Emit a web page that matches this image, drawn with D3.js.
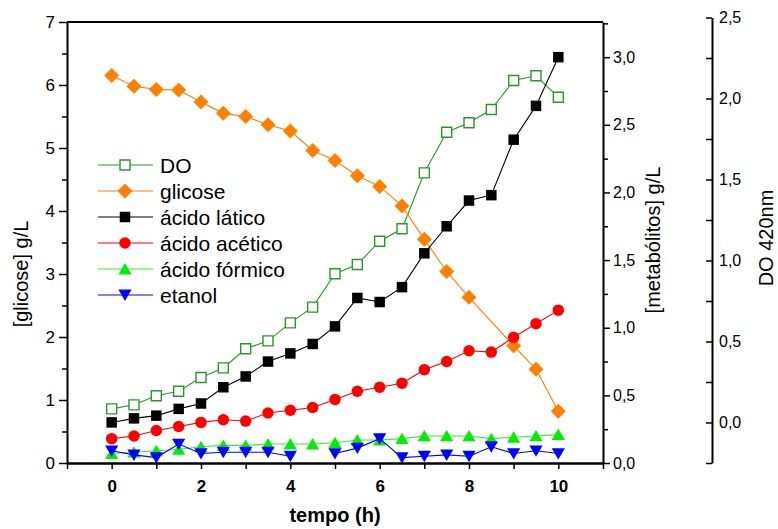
<!DOCTYPE html>
<html>
<head>
<meta charset="utf-8">
<script src="https://cdn.jsdelivr.net/npm/d3@7"></script>
<style>
  html, body { margin: 0; padding: 0; background: #fff; }
  svg { display: block; font-family: "Liberation Sans", Arial, sans-serif; }
</style>
</head>
<body>
<svg id="chart" width="778" height="529"></svg>
<script>
// Sampling times (h)
const tempo = [0, 0.5, 1, 1.5, 2, 2.5, 3, 3.5, 4, 4.5, 5, 5.5, 6, 6.5, 7, 7.5, 8, 8.5, 9, 9.5, 10];

// Optical density (right outer axis)
const DO = [0.084, 0.109, 0.165, 0.193, 0.278, 0.337, 0.455, 0.504, 0.615, 0.712, 0.918, 0.975, 1.119, 1.196, 1.541, 1.792, 1.850, 1.932, 2.111, 2.140, 2.008];
// Glucose g/L (left axis) - no sample at 8.5 h
const glicose = [6.15, 5.98, 5.93, 5.92, 5.73, 5.55, 5.50, 5.37, 5.27, 4.96, 4.80, 4.56, 4.39, 4.08, 3.55, 3.04, 2.63, null, 1.86, 1.49, 0.82];
// Metabolites g/L (right inner axis)
const acidoLatico = [0.30, 0.33, 0.35, 0.40, 0.44, 0.56, 0.64, 0.75, 0.81, 0.88, 1.01, 1.22, 1.19, 1.30, 1.55, 1.75, 1.94, 1.98, 2.39, 2.64, 3.00];
const acidoAcetico = [0.18, 0.20, 0.24, 0.27, 0.30, 0.32, 0.31, 0.37, 0.39, 0.41, 0.47, 0.53, 0.56, 0.59, 0.69, 0.75, 0.83, 0.82, 0.93, 1.03, 1.13];
const acidoFormico = [0.07, 0.08, 0.09, 0.10, 0.12, 0.13, 0.13, 0.14, 0.14, 0.14, 0.15, 0.17, 0.17, 0.18, 0.20, 0.20, 0.20, 0.18, 0.19, 0.20, 0.21];
// Ethanol - reading missing at 4.5 h (line is broken there)
const etanol = [0.09, 0.06, 0.04, 0.14, 0.07, 0.08, 0.08, 0.08, 0.05, null, 0.07, 0.11, 0.18, 0.04, 0.05, 0.06, 0.05, 0.12, 0.07, 0.09, 0.07];

// Axis ticks
const xTicks = [-1, 0, 1, 2, 3, 4, 5, 6, 7, 8, 9, 10, 11];
const xLabels = [0, 2, 4, 6, 8, 10];
const yLeftTicks = [0, 1, 2, 3, 4, 5, 6, 7];
const yMetTicks = [0, 0.5, 1, 1.5, 2, 2.5, 3];
const yDOTicks = [0, 0.5, 1, 1.5, 2, 2.5];

const svg = d3.select("#chart");

const L = 67, R = 603, T = 22, B = 463;
const x = d3.scaleLinear().domain([-1, 11]).range([L, R]);
const yG = d3.scaleLinear().domain([0, 7]).range([B, T]);
const yM = d3.scaleLinear().domain([0, 3.26]).range([B, T]);
const yD = d3.scaleLinear().domain([-0.25, 2.5]).range([B, 17.5]);
const doAxisX = 712;

const comma = v => d3.format(".1f")(v).replace(".", ",");

// ---- marker shapes ----
const shapes = {
  square: s => `M${-s/2},${-s/2}h${s}v${s}h${-s}Z`,
  diamond: s => `M0,${-s/2}L${s/2},0L0,${s/2}L${-s/2},0Z`,
  circle: s => `M${s/2},0A${s/2},${s/2} 0 1,1 ${-s/2},0A${s/2},${s/2} 0 1,1 ${s/2},0Z`,
  up: s => `M0,${-s*0.5}L${s*0.55},${s*0.45}L${-s*0.55},${s*0.45}Z`,
  down: s => `M0,${s*0.5}L${s*0.55},${-s*0.45}L${-s*0.55},${-s*0.45}Z`
};

const series = [
  { name: "DO", values: DO, y: yD, line: "#2b962b", fill: "#ffffff", stroke: "#2b962b", shape: "square", size: 10, connect: true },
  { name: "glicose", values: glicose, y: yG, line: "#ff8000", fill: "#ff8000", stroke: "none", shape: "diamond", size: 15, connect: true },
  { name: "ácido lático", values: acidoLatico, y: yM, line: "#000000", fill: "#000000", stroke: "none", shape: "square", size: 10.5, connect: true },
  { name: "ácido acético", values: acidoAcetico, y: yM, line: "#ff0000", fill: "#ff0000", stroke: "none", shape: "circle", size: 11.5, connect: true },
  { name: "ácido fórmico", values: acidoFormico, y: yM, line: "#33ee33", fill: "#00ee00", stroke: "none", shape: "up", size: 12, connect: true },
  { name: "etanol", values: etanol, y: yM, line: "#0000ff", fill: "#0000ff", stroke: "none", shape: "down", size: 12, connect: false }
];

const plot = svg.append("g");

series.forEach(s => {
  const pts = tempo.map((t, i) => ({ t, v: s.values[i] }));
  const line = d3.line().x(d => x(d.t)).y(d => s.y(d.v));
  let data;
  if (s.connect) {
    data = pts.filter(d => d.v != null);
  } else {
    data = pts;
    line.defined(d => d.v != null);
  }
  plot.append("path")
    .attr("d", line(data))
    .attr("fill", "none")
    .attr("stroke", s.line)
    .attr("stroke-width", 1.1);
  plot.selectAll(null)
    .data(pts.filter(d => d.v != null))
    .join("path")
    .attr("transform", d => `translate(${x(d.t)},${s.y(d.v)})`)
    .attr("d", shapes[s.shape](s.size))
    .attr("fill", s.fill)
    .attr("stroke", s.stroke)
    .attr("stroke-width", 1.4);
});

// ---- axes ----
function styleAxis(g, fontSize, weight) {
  g.selectAll("path.domain").attr("stroke", "#000").attr("stroke-width", 2);
  g.selectAll(".tick line").attr("stroke", "#000").attr("stroke-width", 1.5);
  g.selectAll(".tick text")
    .attr("fill", "#000")
    .attr("font-family", "'Liberation Sans', Arial, sans-serif")
    .attr("font-size", fontSize)
    .attr("font-weight", weight);
}

// top frame line
svg.append("line")
  .attr("x1", L).attr("x2", R).attr("y1", T).attr("y2", T)
  .attr("stroke", "#000").attr("stroke-width", 2);

// left axis (glucose)
const gLeft = svg.append("g").attr("transform", `translate(${L},0)`)
  .call(d3.axisLeft(yG).tickValues(yLeftTicks).tickSize(8).tickSizeOuter(0).tickPadding(4).tickFormat(d3.format("d")));
styleAxis(gLeft, 17, "normal");
svg.append("g").attr("transform", `translate(${L},0)`)
  .call(d3.axisLeft(yG).tickValues(yLeftTicks.slice(0, -1).map(v => v + 0.5)).tickSize(5).tickSizeOuter(0).tickFormat(""))
  .call(g => { g.select(".domain").remove(); g.selectAll("line").attr("stroke", "#000").attr("stroke-width", 1.5); });

// right inner axis (metabolites)
const gMet = svg.append("g").attr("transform", `translate(${R},0)`)
  .call(d3.axisRight(yM).tickValues(yMetTicks).tickSize(7).tickSizeOuter(0).tickPadding(3).tickFormat(comma));
styleAxis(gMet, 16, "normal");
svg.append("g").attr("transform", `translate(${R},0)`)
  .call(d3.axisRight(yM).tickValues(yMetTicks.map(v => v + 0.25)).tickSize(5).tickSizeOuter(0).tickFormat(""))
  .call(g => { g.select(".domain").remove(); g.selectAll("line").attr("stroke", "#000").attr("stroke-width", 1.5); });

// right outer axis (optical density), ticks pointing inward
const gDO = svg.append("g").attr("transform", `translate(${doAxisX},0)`)
  .call(d3.axisRight(yD).tickValues(yDOTicks).tickSizeInner(-6).tickSizeOuter(0).tickPadding(7).tickFormat(comma));
styleAxis(gDO, 16, "normal");
svg.append("g").attr("transform", `translate(${doAxisX},0)`)
  .call(d3.axisRight(yD).tickValues([-0.25, 0.25, 0.75, 1.25, 1.75, 2.25]).tickSizeInner(-6).tickSizeOuter(0).tickFormat(""))
  .call(g => { g.select(".domain").remove(); g.selectAll("line").attr("stroke", "#000").attr("stroke-width", 1.5); });

// bottom axis (time)
const gBottom = svg.append("g").attr("transform", `translate(0,${B})`)
  .call(d3.axisBottom(x).tickValues(xTicks).tickSize(6).tickSizeOuter(0).tickPadding(11)
    .tickFormat(v => xLabels.includes(v) ? d3.format("d")(v) : ""));
styleAxis(gBottom, 17, "bold");
gBottom.select("path.domain").attr("stroke-width", 2.4);

// ---- axis titles ----
const titleFont = "'Liberation Sans', Arial, sans-serif";
svg.append("text")
  .attr("x", (L + R) / 2).attr("y", 522)
  .attr("text-anchor", "middle")
  .attr("font-family", titleFont).attr("font-size", 20).attr("font-weight", "bold")
  .text("tempo (h)");

svg.append("text")
  .attr("transform", `translate(28,274) rotate(-90)`)
  .attr("text-anchor", "middle")
  .attr("font-family", titleFont).attr("font-size", 20)
  .text("[glicose] g/L");

svg.append("text")
  .attr("transform", `translate(660,240) rotate(-90)`)
  .attr("text-anchor", "middle")
  .attr("font-family", titleFont).attr("font-size", 20)
  .text("[metabólitos] g/L");

svg.append("text")
  .attr("transform", `translate(773,238) rotate(-90)`)
  .attr("text-anchor", "middle")
  .attr("font-family", titleFont).attr("font-size", 20)
  .text("DO 420nm");

// ---- legend ----
const legend = svg.append("g");
series.forEach((s, i) => {
  const cy = 165 + i * 26;
  const row = legend.append("g").attr("transform", `translate(0,${cy})`);
  row.append("line").attr("x1", 98).attr("x2", 153).attr("y1", 0).attr("y2", 0)
    .attr("stroke", s.line).attr("stroke-width", 1.1);
  row.append("path").attr("transform", "translate(125,0)")
    .attr("d", shapes[s.shape](s.size))
    .attr("fill", s.fill).attr("stroke", s.stroke).attr("stroke-width", 1.4);
  row.append("text").attr("x", 160).attr("y", 0).attr("dy", "0.36em")
    .attr("font-family", titleFont).attr("font-size", 21)
    .text(s.name);
});
</script>
</body>
</html>
